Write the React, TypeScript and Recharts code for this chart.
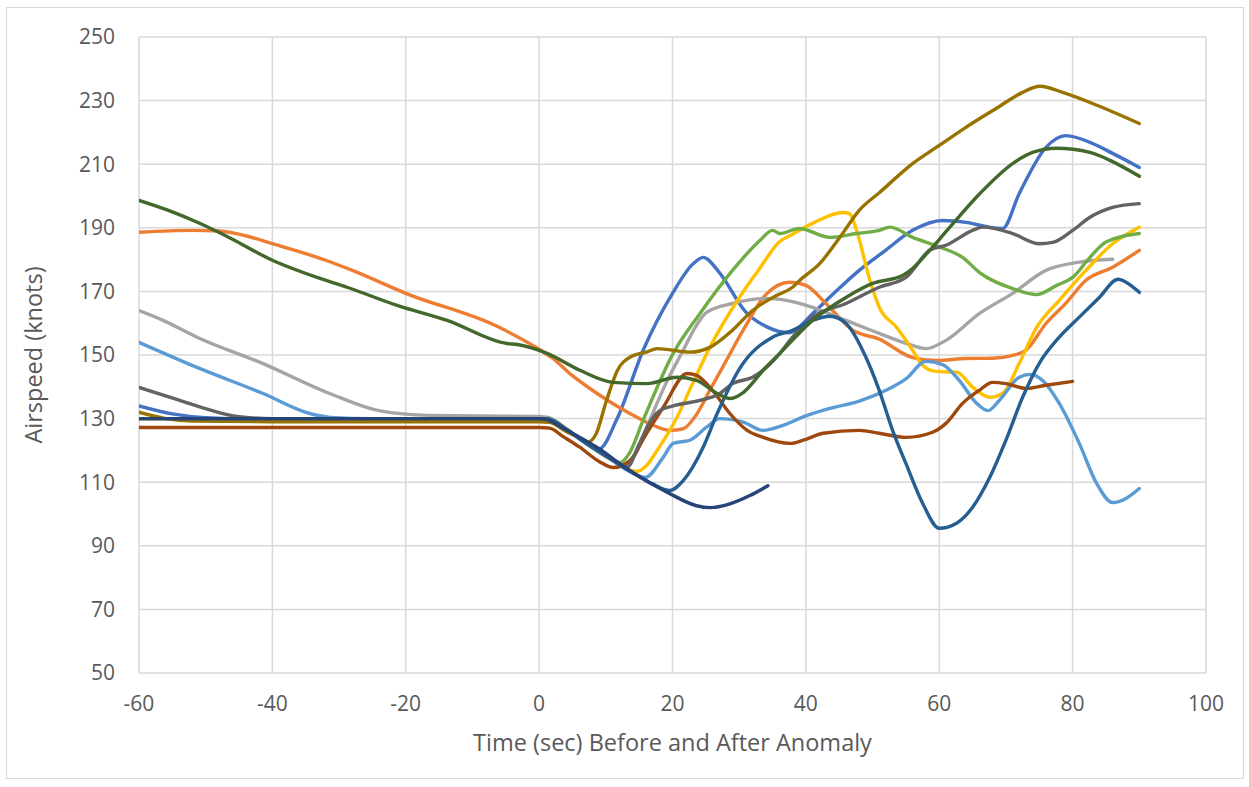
import React from 'react';
import { LineChart, Line, XAxis, YAxis, CartesianGrid } from 'recharts';

// Time (sec) / airspeed (knots) pairs
const blueSeries = [[-60,134],[-55,131.5],[-50,130.3],[-45,130],[0,130],[1.5,129.8],[4,126.7],[7,122.3],[9,120.5],[11.7,130],[15.6,151.5],[20,169.4],[23,178.5],[24.6,180.7],[27,176],[31,163.5],[34,159],[37.5,157],[41,163],[44,169],[48,176.6],[52,183],[56,189.2],[60.5,192.3],[64,191.7],[67.5,190.2],[69.5,189.8],[72,200.8],[76,215.3],[79,219],[83,216.5],[86,213.4],[90,209]];
const orangeSeries = [[-60,188.6],[-52,189.2],[-48,189],[-44,187.5],[-40,185],[-32,179.8],[-28,176.6],[-20,169.4],[-6,158.7],[0,151.8],[2,149],[5,143.5],[8.7,137.9],[13.6,131.6],[17,128],[19.6,126.3],[21.6,126.8],[23.5,131],[25.6,138.9],[28,148],[30.6,157.8],[34,169],[37.6,172.9],[40,171.9],[43,166.2],[47,157.8],[51,155],[56,149.2],[59.6,148.3],[64,148.9],[68,149],[71,149.9],[73,151.5],[76,159.9],[79,166.3],[82,173.5],[86,177.6],[90,182.9]];
const graySeries = [[-60,164],[-56.4,160.9],[-51.3,155.6],[-41.4,147.3],[-31.4,137.9],[-24,132.5],[-16.4,131],[0,130.7],[1.5,130.3],[4,127],[7,122.3],[10,118],[12.9,115.5],[14.5,119],[16.6,129.5],[19,141],[21.6,151.5],[23.5,159],[25.1,163.4],[29,166.2],[34,167.8],[37,167.2],[41,165],[46,160.9],[51,156.8],[56,153],[58,152],[61,154.6],[66,163],[71,169.4],[76,176.6],[81,179.2],[86,180.1]];
const yellowSeries = [[-60,130],[0,130],[1.5,129.8],[4,126.7],[7,122.3],[10,118.3],[12.5,115],[14.6,113.4],[16,115],[17.7,120],[20.7,130.5],[23,141],[25.6,152.4],[30,168],[33,177],[36,185.5],[38,188],[41,191.4],[45.6,194.8],[46.6,194.4],[47.6,189.2],[49.6,173.5],[51,165],[53.6,158.7],[56,151.5],[57.5,146.8],[59,145],[60.5,144.7],[62.6,144.6],[65,139.9],[67.6,136.7],[69.5,137.9],[72,147.4],[74.6,158.7],[78,167.2],[82,176.6],[86,185],[90,190.2]];
const lightBlueSeries = [[-60,154],[-51.3,146.1],[-41.4,137.9],[-34.4,131.6],[-31.4,130.4],[-25,130],[0,130],[1.5,129.8],[4,126.7],[7,122.3],[10,118.3],[13,114],[15.9,111.5],[18.6,117.8],[20.1,122.2],[22.6,123.2],[25.1,127.3],[27.1,130],[30.6,128.9],[33.6,126.3],[36.6,127.9],[40.2,131],[43.6,133.2],[48,135.5],[52,138.9],[55,142.5],[58,148],[60.5,147],[63,142],[65.6,134.8],[67.3,132.5],[69,135.7],[72,143],[73.6,143.9],[75.5,142],[78,134.8],[81,122.2],[83.6,109.6],[86,103.6],[88,104.9],[90,108]];
const greenSeries = [[-60,130],[0,130],[1.5,129.8],[4,126.7],[7,122.3],[10,118.3],[12.1,116.2],[13.5,119],[15.6,129.5],[20.1,150.5],[24.1,163],[29,176.6],[33.1,186],[35,189.2],[36.1,188.2],[39,189.8],[43.6,187],[47.6,188.2],[51,189.2],[52.6,190.2],[56,187],[60,184],[63.5,180.7],[66,176],[71,170.9],[74.6,169],[77.6,171.9],[80,174.4],[82.6,180.7],[85,185.5],[90,188.2]];
const navySeries = [[-60,130],[0,130],[1,129.8],[3.6,127],[8.7,120.9],[13.6,113.6],[19.6,106.4],[23.6,102.6],[25.6,102],[28.6,103.2],[31.6,105.8],[34.3,108.9]];
const brownSeries = [[-60,127.2],[0,127.2],[1.6,127],[3.5,124.5],[6.1,121],[9,116.5],[11.1,114.6],[13.6,116.8],[16,125],[18.6,133.5],[22.2,144.2],[23.6,143.6],[26,138.9],[28.6,131.6],[31.2,126.3],[33.6,124.1],[37.6,122.2],[39.6,123.2],[42.6,125.4],[48,126.3],[51,125.4],[55,124.1],[59,125.7],[61,128.5],[63.5,134.8],[66,138.9],[68,141.4],[70,141],[73,139.5],[76,140.5],[80,141.7]];
const darkGraySeries = [[-60,139.8],[-54,135.8],[-49,132.5],[-45.3,130.7],[-40,130],[0,130],[1.5,129.8],[4,126.7],[7,122.3],[10,118.3],[13.2,114.8],[15,122],[16.5,128.5],[18.1,132.5],[20.1,134],[24.1,135.7],[27.1,137.9],[29,141],[32,143],[36.1,150.5],[37.6,154.6],[41,161.9],[46,166.2],[51,171.3],[55,174.4],[58.6,183],[61,184.5],[65,189.2],[66.5,190.2],[71,188.2],[75,185],[77,185.4],[80,189.2],[82.6,193.3],[86,196.4],[90,197.6]];
const oliveSeries = [[-60,132],[-56,130],[-52,129.2],[-40,129],[0,129],[1.6,128.8],[4,126],[6.1,123.8],[7.2,122.5],[8.5,125],[10,135],[11.7,145],[13.6,149.3],[16.2,151],[17.7,152],[22.6,150.9],[25.6,152.4],[29,157.8],[32,164],[35.6,168.7],[38,171.3],[39.1,173.5],[42.1,178.8],[45.1,187],[48,195.5],[51,201],[56,210.2],[60,215.9],[64,221.6],[68.6,227.6],[72.5,232.6],[75.1,234.5],[78.5,232.6],[83,229.1],[90,222.8]];
const steelBlueSeries = [[-60,130],[0,130],[1.5,129.8],[4,126.7],[7,122.3],[10,118.3],[13.6,113.6],[17,109.5],[19.6,107.4],[21.6,110.5],[24.6,121],[26.7,131.6],[30.3,146.5],[35,155.6],[38,157.8],[41,160.9],[43.6,162.2],[46,160],[49,149.3],[51,138.9],[53,126.3],[55,115.9],[57.5,103.4],[60,95.5],[62.6,97.1],[65,102.1],[67.6,111.6],[70,123.2],[72.5,136.7],[75,147.4],[78,155.6],[81,161.9],[84,168.1],[86.8,173.8],[88,172.9],[90,169.7]];
const darkGreenSeries = [[-60,198.6],[-55,195],[-51,191.5],[-47,187.5],[-40,179.8],[-33.3,174.4],[-28.8,171.3],[-21.3,165.6],[-13.8,160.9],[-4.8,153.6],[-3.3,153.3],[1.2,150.5],[6.1,145.2],[11.1,141.4],[16.2,141],[20.7,143],[23.6,142],[26.7,137.9],[28.6,136.3],[30.6,138.2],[33.6,145.2],[36.1,150.5],[41,160.9],[46,168.1],[50,172.5],[54.5,175],[56,177.2],[58.6,183],[61.1,189],[66.1,200.8],[71,210.2],[74,213.7],[77.6,215],[82.6,213.7],[85.6,211.2],[90,206.2]];

const xTicks = [-60, -40, -20, 0, 20, 40, 60, 80, 100];
const yTicks = [50, 70, 90, 110, 130, 150, 170, 190, 210, 230, 250];

const seriesList = [
  { name: 'blue', pts: blueSeries, color: '#4472C4' },
  { name: 'orange', pts: orangeSeries, color: '#ED7D31' },
  { name: 'gray', pts: graySeries, color: '#A5A5A5' },
  { name: 'yellow', pts: yellowSeries, color: '#FFC000' },
  { name: 'lightBlue', pts: lightBlueSeries, color: '#5B9BD5' },
  { name: 'green', pts: greenSeries, color: '#70AD47' },
  { name: 'brown', pts: brownSeries, color: '#9E480E' },
  { name: 'darkGray', pts: darkGraySeries, color: '#636363' },
  { name: 'olive', pts: oliveSeries, color: '#997300' },
  { name: 'steelBlue', pts: steelBlueSeries, color: '#255E91' },
  { name: 'darkGreen', pts: darkGreenSeries, color: '#43682B' },
  { name: 'navy', pts: navySeries, color: '#264478' },
];

const FONT = '"Open Sans", sans-serif';
const TXT = '#595959';

export default function App() {
  return (
    <div style={{ position: 'absolute', left: 0, top: 0, width: 1249, height: 787, background: '#fff' }}>
      <div style={{ position: 'absolute', left: 6, top: 7, width: 1238, height: 772, border: '1px solid #d9d9d9', boxSizing: 'border-box' }} />
      <div style={{ position: 'absolute', left: 0, top: 0 }}>
        <LineChart width={1249} height={787} margin={{ top: 37, right: 43, bottom: 54, left: 79 }}>
          <CartesianGrid stroke="#d9d9d9" strokeWidth={1.5} horizontal vertical />
          <XAxis
            type="number"
            dataKey="t"
            domain={[-60, 100]}
            ticks={xTicks}
            allowDataOverflow
            axisLine={false}
            tickLine={false}
            tickSize={0}
            tickMargin={23}
            height={60}
            tick={{ fill: TXT, fontSize: 21, fontFamily: FONT }}
            label={{
              content: () => (
                <text x={139 + 1067 / 2} y={751} textAnchor="middle" fill={TXT} fontSize={23.5} fontFamily={FONT}>
                  Time (sec) Before and After Anomaly
                </text>
              ),
            }}
          />
          <YAxis
            type="number"
            domain={[50, 250]}
            ticks={yTicks}
            allowDataOverflow
            axisLine={false}
            tickLine={false}
            tickSize={0}
            tickMargin={24}
            width={60}
            tick={{ fill: TXT, fontSize: 21, fontFamily: FONT }}
            label={{
              content: () => (
                <text x={42} y={355} transform="rotate(-90 42 355)" textAnchor="middle" fill={TXT} fontSize={23.5} fontFamily={FONT}>
                  Airspeed (knots)
                </text>
              ),
            }}
          />
          {seriesList.map((s) => (
            <Line
              key={s.name}
              data={s.pts.map(([t, v]) => ({ t, v }))}
              dataKey="v"
              type="monotone"
              stroke={s.color}
              strokeWidth={3.4}
              dot={false}
              activeDot={false}
              isAnimationActive={false}
              strokeLinecap="round"
              strokeLinejoin="round"
            />
          ))}
        </LineChart>
      </div>
    </div>
  );
}
